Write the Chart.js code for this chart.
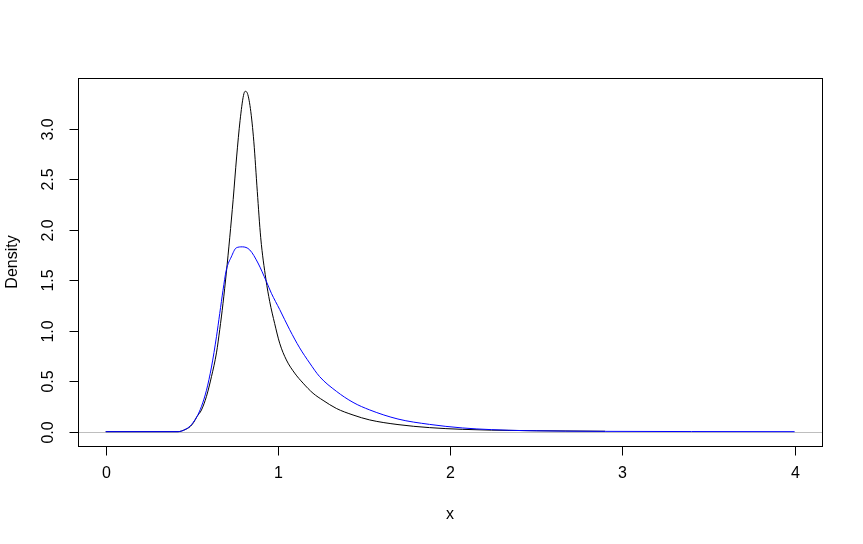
<!DOCTYPE html>
<html>
<head>
<meta charset="utf-8">
<script src="https://cdn.jsdelivr.net/npm/chart.js@4.4.1/dist/chart.umd.min.js"></script>
<style>
  html, body { margin: 0; padding: 0; background: #fff; }
</style>
</head>
<body>
<canvas id="densityChart" width="863" height="544"></canvas>
<script>
// Curve values
const blackX = [0, 0.42, 0.46, 0.49, 0.51, 0.53, 0.556, 0.585, 0.614, 0.643, 0.662, 0.681, 0.70, 0.72, 0.74, 0.76, 0.78, 0.80, 0.81, 0.82, 0.84, 0.86, 0.88, 0.90, 0.93, 0.952, 0.981, 1.01, 1.049, 1.097, 1.146, 1.204, 1.262, 1.339, 1.436, 1.533, 1.697, 1.88, 2.07, 2.24, 2.5, 2.9];
const blackY = [0, 0, 0.02, 0.05, 0.09, 0.15, 0.215, 0.35, 0.545, 0.78, 1.01, 1.27, 1.57, 1.92, 2.30, 2.72, 3.08, 3.33, 3.37, 3.36, 3.20, 2.87, 2.38, 1.92, 1.51, 1.29, 1.07, 0.876, 0.71, 0.58, 0.48, 0.38, 0.31, 0.23, 0.165, 0.116, 0.07, 0.04, 0.023, 0.015, 0.009, 0.004];

const blueX = [0, 0.42, 0.46, 0.49, 0.507, 0.53, 0.556, 0.585, 0.614, 0.643, 0.662, 0.681, 0.70, 0.729, 0.758, 0.793, 0.836, 0.884, 0.932, 0.962, 1.01, 1.068, 1.126, 1.184, 1.242, 1.339, 1.436, 1.533, 1.697, 1.88, 2.07, 2.24, 2.44, 2.9, 3.4, 4.0];
const blueY = [0, 0, 0.02, 0.055, 0.09, 0.15, 0.25, 0.41, 0.64, 0.94, 1.17, 1.40, 1.60, 1.73, 1.82, 1.83, 1.80, 1.67, 1.49, 1.37, 1.21, 1.01, 0.83, 0.68, 0.545, 0.40, 0.29, 0.215, 0.125, 0.072, 0.037, 0.02, 0.01, 0.003, 0.001, 0];

// Axis ticks
const xTicks = [0, 1, 2, 3, 4];
const yTicks = [0, 0.5, 1, 1.5, 2, 2.5, 3];
const yTickLabels = ["0.0", "0.5", "1.0", "1.5", "2.0", "2.5", "3.0"];

const FONT = '16px "Liberation Sans", Arial, sans-serif';

function toPoints(xs, ys) {
  return xs.map((x, i) => ({ x: x, y: ys[i] }));
}

// draws the R style frame, ticks, labels and the zero line
const rFrame = {
  id: "rFrame",
  beforeDatasetsDraw(chart) {
    const { ctx, chartArea, scales } = chart;
    const y0 = Math.round(scales.y.getPixelForValue(0)) + 0.5;
    ctx.save();
    ctx.strokeStyle = "#bebebe";
    ctx.lineWidth = 1;
    ctx.beginPath();
    ctx.moveTo(chartArea.left, y0);
    ctx.lineTo(chartArea.right, y0);
    ctx.stroke();
    ctx.restore();
  },
  afterDraw(chart) {
    const { ctx, chartArea, scales } = chart;
    const left = Math.round(chartArea.left) + 0.5;
    const top = Math.round(chartArea.top) + 0.5;
    const right = Math.round(chartArea.right) + 0.5;
    const bottom = Math.round(chartArea.bottom) + 0.5;

    ctx.save();
    ctx.strokeStyle = "#000";
    ctx.fillStyle = "#000";
    ctx.lineWidth = 1;
    ctx.strokeRect(left, top, right - left, bottom - top);

    ctx.font = FONT;
    ctx.textAlign = "center";
    ctx.textBaseline = "middle";

    // x axis
    xTicks.forEach(v => {
      const px = Math.round(scales.x.getPixelForValue(v)) + 0.5;
      ctx.beginPath();
      ctx.moveTo(px, bottom);
      ctx.lineTo(px, bottom + 9);
      ctx.stroke();
      ctx.fillText(String(v), px, 474);
    });
    ctx.fillText("x", (chartArea.left + chartArea.right) / 2, 515);

    // y axis, labels turned like R
    yTicks.forEach((v, i) => {
      const py = Math.round(scales.y.getPixelForValue(v)) + 0.5;
      ctx.beginPath();
      ctx.moveTo(left - 9, py);
      ctx.lineTo(left, py);
      ctx.stroke();
      ctx.save();
      ctx.translate(49, py);
      ctx.rotate(-Math.PI / 2);
      ctx.fillText(yTickLabels[i], 0, 0);
      ctx.restore();
    });
    ctx.save();
    ctx.translate(13, (chartArea.top + chartArea.bottom) / 2);
    ctx.rotate(-Math.PI / 2);
    ctx.fillText("Density", 0, 0);
    ctx.restore();

    ctx.restore();
  }
};

const ctx = document.getElementById("densityChart").getContext("2d");

const densityChart = new Chart(ctx, {
  type: "line",
  data: {
    datasets: [
      {
        label: "blue",
        data: toPoints(blueX, blueY),
        borderColor: "#0000ff",
        borderWidth: 1,
        pointRadius: 0,
        cubicInterpolationMode: "monotone",
        order: 0
      },
      {
        label: "black",
        data: toPoints(blackX, blackY),
        borderColor: "#000000",
        borderWidth: 1,
        pointRadius: 0,
        cubicInterpolationMode: "monotone",
        order: 1
      }
    ]
  },
  options: {
    responsive: false,
    animation: false,
    layout: { padding: { top: 78, right: 41, left: 0, bottom: 0 } },
    plugins: {
      legend: { display: false },
      tooltip: { enabled: false }
    },
    scales: {
      x: {
        type: "linear",
        min: -0.161,
        max: 4.159,
        afterBuildTicks: s => { s.ticks = xTicks.map(v => ({ value: v })); },
        afterFit: s => { s.height = 98; },
        ticks: { display: false },
        grid: { display: false },
        border: { display: false }
      },
      y: {
        type: "linear",
        min: -0.142,
        max: 3.502,
        afterBuildTicks: s => { s.ticks = yTicks.map(v => ({ value: v })); },
        afterFit: s => { s.width = 78; },
        ticks: { display: false },
        grid: { display: false },
        border: { display: false }
      }
    }
  },
  plugins: [rFrame]
});
</script>
</body>
</html>
